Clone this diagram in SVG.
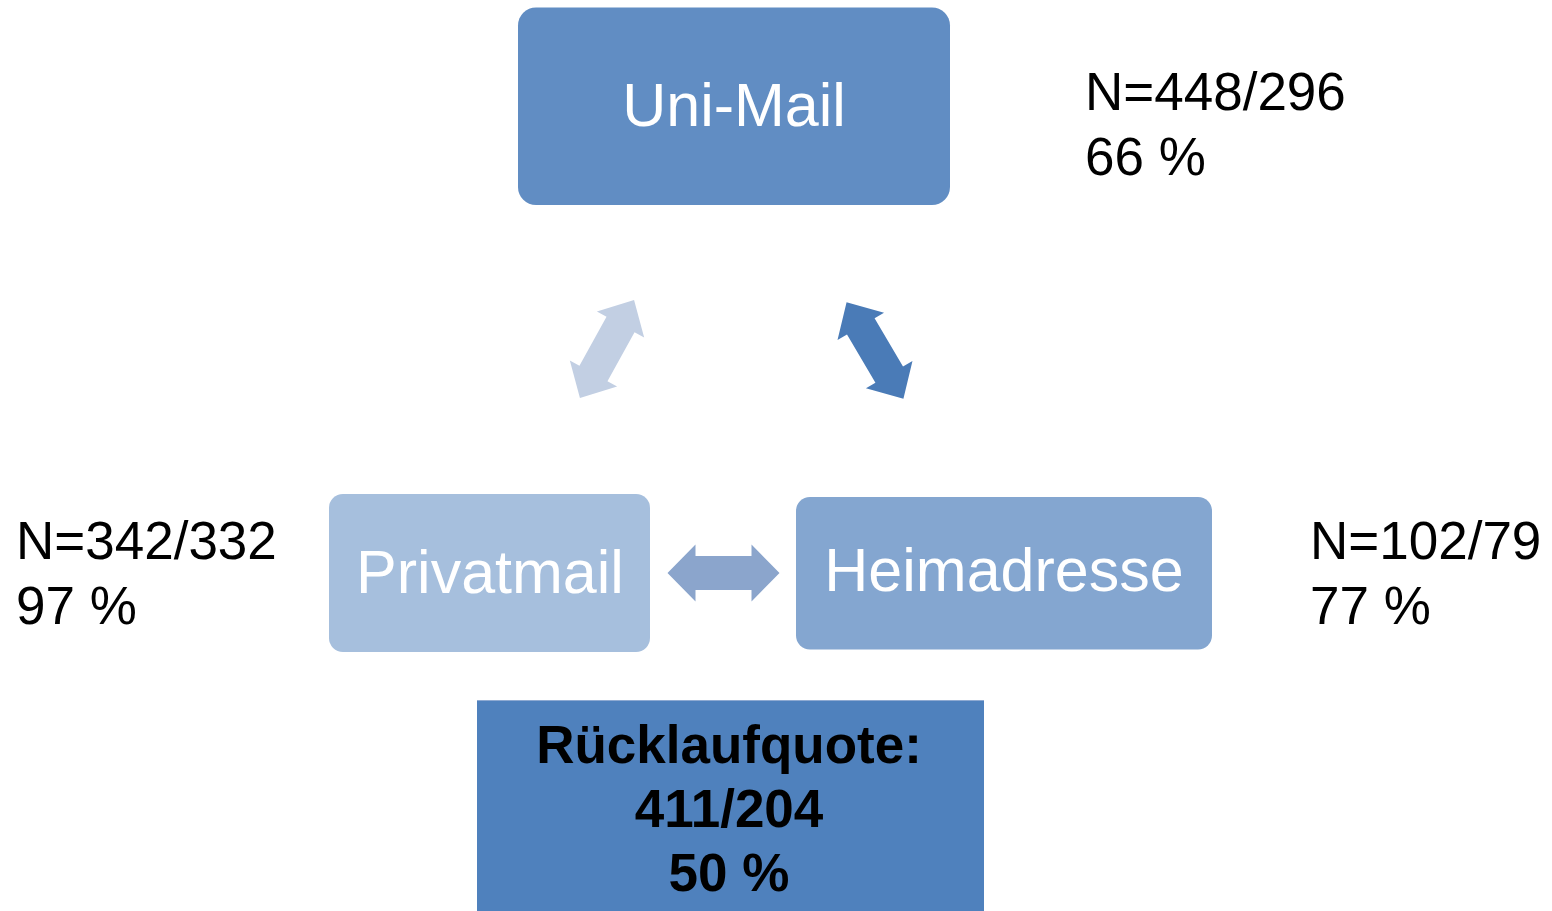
<svg xmlns="http://www.w3.org/2000/svg" width="1552" height="911" viewBox="0 0 1552 911">
<style>
.lbl{font-family:"Liberation Sans",Arial,sans-serif;font-size:61px;fill:#ffffff;text-anchor:middle}
.note{font-family:"Liberation Sans",Arial,sans-serif;font-size:53px;fill:#000000}
.big{font-family:"Liberation Sans",Arial,sans-serif;font-size:53px;font-weight:bold;fill:#000000;text-anchor:middle}
</style>
<defs>
<polygon id="dbl" points="-56,0 -28,-27 -28,-16 28,-16 28,-27 56,0 28,27 28,16 -28,16 -28,27"/>
<polygon id="dblh" points="-56,0 -28,-28.5 -28,-17 28,-17 28,-28.5 56,0 28,28.5 28,17 -28,17 -28,28.5"/>
</defs>
<rect width="1552" height="911" fill="#ffffff"/>
<g id="connectors">
<use href="#dbl" transform="translate(607,349) rotate(-61.1)" fill="#C2CFE3"/>
<use href="#dbl" transform="translate(875,350.5) rotate(59.5)" fill="#4A7BB7"/>
<use href="#dblh" transform="translate(723.5,573)" fill="#8BA5CC"/>
</g>
<g id="uni-mail">
<rect x="518" y="7.5" width="432" height="197.5" rx="18" fill="#618DC3"/>
<text class="lbl" x="734" y="126">Uni-Mail</text>
</g>
<g id="privatmail">
<rect x="329" y="494" width="321" height="158" rx="14" fill="#A6BFDD"/>
<text class="lbl" x="490" y="593">Privatmail</text>
</g>
<g id="heimadresse">
<rect x="796" y="497" width="416" height="152.5" rx="14" fill="#84A6D0"/>
<text class="lbl" x="1004" y="591">Heimadresse</text>
</g>
<g id="ruecklauf">
<rect x="477" y="700" width="507" height="211" fill="#4F81BD"/>
<line x1="477" y1="700.5" x2="984" y2="700.5" stroke="#8FAAD2" stroke-width="1"/>
<text class="big" x="729" y="763">Rücklaufquote:</text>
<text class="big" x="729" y="827">411/204</text>
<text class="big" x="729" y="891">50 %</text>
</g>
<g id="note-uni">
<text class="note" x="1085" y="110">N=448/296</text>
<text class="note" x="1085" y="175">66 %</text>
</g>
<g id="note-privat">
<text class="note" x="16" y="559">N=342/332</text>
<text class="note" x="16" y="624">97 %</text>
</g>
<g id="note-heim">
<text class="note" x="1310" y="559">N=102/79</text>
<text class="note" x="1310" y="624">77 %</text>
</g>
</svg>
